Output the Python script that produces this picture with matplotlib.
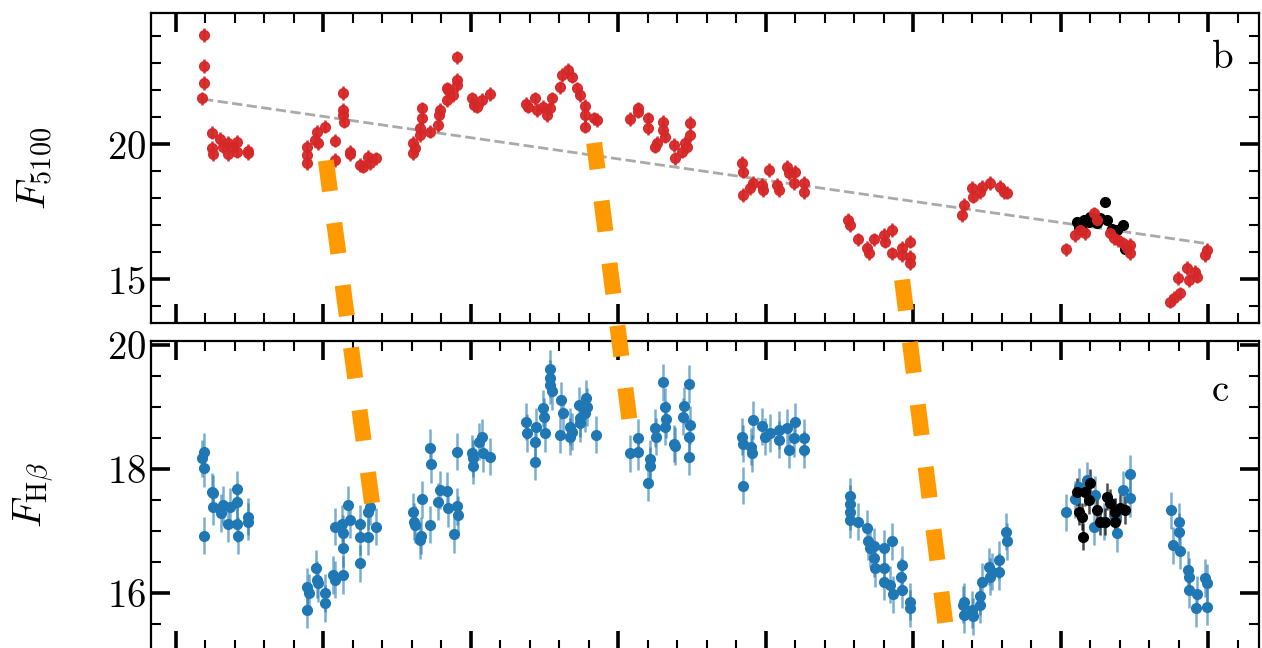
import matplotlib
matplotlib.use("Agg")
import matplotlib.pyplot as plt
from matplotlib.ticker import MultipleLocator, FuncFormatter
from matplotlib.lines import Line2D
import numpy as np

plt.rcParams['mathtext.fontset'] = 'cm'
plt.rcParams['font.family'] = 'serif'

# ---- continuum light curve (F5100), days since start
t_5100 = [97, 95, 97, 87, 123, 123, 127, 150, 159, 176, 178, 195, 207, 209, 243, 243,
          444, 444, 444, 472, 478, 483, 506, 540, 540, 566, 566, 568, 571, 589, 589, 625, 636, 653, 659, 679,
          805, 805, 811, 828, 828, 834, 836, 862, 890, 893, 894, 919, 919, 924, 941, 953, 953, 953,
          1003, 1009, 1022, 1037, 1065,
          1188, 1195, 1218, 1224, 1246, 1258, 1269, 1275, 1303, 1309, 1331, 1342, 1359, 1371, 1388, 1388,
          1388, 1416, 1427,
          1540, 1565, 1568, 1602, 1602, 1653, 1653, 1659, 1625, 1631, 1689, 1693, 1715, 1727, 1744, 1744, 1732,
          1919, 1922, 1922, 1947, 1956, 1987, 1992, 2012, 2037, 2046, 2071, 2077, 2099, 2096, 2128, 2128,
          2280, 2286, 2314, 2343, 2348, 2365, 2399, 2405, 2427, 2427, 2461, 2461, 2489, 2489, 2487,
          2665, 2670, 2698, 2702, 2727, 2732, 2760, 2794, 2806, 2817,
          3018, 3049, 3066, 3083, 3111, 3122, 3167, 3179, 3195, 3212, 3224, 3235, 3235,
          3371, 3382, 3396, 3405, 3427, 3433, 3456, 3461, 3489, 3495]
f_5100 = [24.05, 22.90, 22.26, 21.70, 20.43, 19.86, 19.64, 20.19, 19.91, 20.04, 19.64, 19.91, 20.10, 19.73,
          19.76, 19.67,
          19.91, 19.60, 19.30, 20.16, 20.47, 20.04, 20.65, 20.13, 19.42, 21.89, 21.27, 21.09, 20.84, 19.73,
          19.64, 19.23, 19.17, 19.54, 19.30, 19.48,
          20.04, 19.67, 19.85, 20.34, 20.59, 20.96, 21.33, 20.47, 20.71, 21.09, 21.27, 21.64, 22.07, 22.01,
          21.83, 22.38, 22.20, 23.22, 21.70, 21.46, 21.39, 21.64, 21.86,
          21.49, 21.39, 21.70, 21.27, 21.39, 21.09, 21.33, 21.70, 22.11, 22.57, 22.75, 22.50, 22.07, 21.83,
          21.42, 21.09, 20.65, 20.96, 20.90,
          20.93, 21.33, 21.21, 20.96, 20.59, 20.84, 20.53, 20.28, 19.91, 20.04, 19.97, 19.48, 19.73, 20.04,
          20.34, 20.80, 19.91,
          19.30, 18.99, 18.12, 18.37, 18.56, 18.49, 18.31, 19.05, 18.49, 18.31, 19.17, 18.93, 18.99, 18.56,
          18.56, 18.24,
          17.20, 17.01, 16.48, 16.15, 15.96, 16.48, 16.64, 16.39, 16.83, 15.96, 16.15, 15.90, 16.39, 15.84,
          15.59,
          17.38, 17.75, 18.37, 18.06, 18.24, 18.43, 18.56, 18.43, 18.24, 18.21,
          16.11, 16.64, 16.83, 16.70, 17.44, 17.20, 16.70, 16.52, 16.46, 16.33, 16.15, 15.96, 16.27,
          14.17, 14.30, 15.04, 14.48, 15.41, 14.97, 15.28, 15.10, 15.90, 16.09]
err_5100 = 0.25

# new campaign (black) continuum
t_5100_new = [3055, 3060, 3071, 3077, 3094, 3100, 3122, 3134, 3151, 3156, 3173, 3190, 3212, 3218]
f_5100_new = [17.13, 16.95, 16.83, 17.20, 17.13, 17.32, 17.10, 17.26, 17.87, 17.20, 16.85, 16.83, 17.01,
              16.11]

# long-term linear trend
t_trend = [92, 3495]
f_trend = [21.67, 16.32]

# ---- H-beta light curve
t_hb = [88, 96, 96, 96, 122, 125, 127, 154, 161, 178, 182, 207, 209, 209, 212, 243, 246,
        444, 446, 450, 476, 478, 483, 506, 506, 534, 538, 538, 563, 566, 568, 566, 585, 589, 625, 625, 625,
        653, 653, 659, 679,
        805, 808, 811, 828, 831, 834, 860, 862, 864, 890, 894, 919, 921, 944, 953, 955, 953, 1003, 1007,
        1007, 1026, 1037, 1041, 1065,
        1188, 1190, 1218, 1222, 1218, 1246, 1249, 1252, 1269, 1269, 1269, 1275, 1303, 1306, 1311, 1337,
        1337, 1342, 1365, 1371, 1371, 1388, 1391, 1393, 1424,
        1540, 1565, 1568, 1602, 1606, 1608, 1625, 1628, 1653, 1659, 1662, 1659, 1689, 1693, 1719, 1723,
        1741, 1744, 1741, 1741,
        1922, 1919, 1922, 1949, 1953, 1956, 1987, 1998, 2015, 2043, 2046, 2071, 2077, 2099, 2096, 2128, 2128,
        2286, 2284, 2286, 2286, 2314, 2343, 2345, 2354, 2365, 2365, 2371, 2399, 2399, 2399, 2427, 2421,
        2431, 2461, 2458, 2461, 2489, 2487,
        2668, 2670, 2672, 2698, 2702, 2727, 2727, 2732, 2758, 2760, 2766, 2792, 2792, 2815, 2817,
        3018, 3049, 3060, 3089, 3117, 3111, 3145, 3190, 3212, 3235, 3235, 3185,
        3373, 3399, 3402, 3379, 3405, 3430, 3433, 3436, 3461, 3459, 3489, 3497, 3495]
f_hb = [18.17, 18.28, 18.01, 16.92, 17.63, 17.39, 17.61, 17.29, 17.42, 17.12, 17.39, 17.67, 17.47, 17.12,
        16.92, 17.23, 17.15,
        15.73, 16.10, 16.00, 16.40, 16.21, 16.16, 16.00, 15.83, 16.29, 16.21, 17.07, 17.12, 16.96, 16.72,
        16.29, 17.42, 17.18, 17.12, 16.91, 16.48, 17.31, 16.91, 17.39, 17.07,
        17.31, 17.15, 17.10, 16.85, 16.92, 17.51, 17.10, 18.34, 18.08, 17.47, 17.66, 17.65, 17.37, 16.95,
        17.40, 17.26, 18.28, 18.25, 18.05, 18.17, 18.44, 18.51, 18.25, 18.20,
        18.76, 18.58, 18.44, 18.68, 18.12, 18.98, 18.84, 18.58, 19.62, 19.46, 19.35, 19.25, 18.55, 19.11,
        18.90, 18.68, 18.52, 18.60, 19.03, 18.82, 18.74, 18.90, 19.14, 19.00, 18.55,
        18.25, 18.50, 18.28, 17.78, 18.16, 18.05, 18.66, 18.52, 19.40, 19.00, 18.80, 18.68, 18.41, 18.37,
        18.84, 19.02, 19.37, 18.71, 18.52, 18.20,
        17.73, 18.52, 18.41, 18.36, 18.25, 18.79, 18.69, 18.52, 18.58, 18.63, 18.47, 18.66, 18.31, 18.76,
        18.50, 18.50, 18.31,
        17.56, 17.44, 17.31, 17.18, 17.15, 17.04, 16.83, 16.72, 16.75, 16.56, 16.40, 16.72, 16.40, 16.18,
        16.83, 16.13, 15.98, 16.45, 16.26, 16.05, 15.86, 15.75,
        15.81, 15.65, 15.86, 15.73, 15.62, 15.81, 15.95, 16.18, 16.42, 16.26, 16.34, 16.53, 16.34, 16.99,
        16.83,
        17.30, 17.51, 17.71, 17.82, 17.58, 17.07, 17.15, 16.96, 17.66, 17.92, 17.53, 17.23,
        17.33, 17.15, 16.99, 16.77, 16.68, 16.37, 16.26, 16.05, 15.98, 15.75, 16.24, 16.16, 15.78]
err_hb = 0.3

t_hb_new = [3055, 3060, 3071, 3083, 3100, 3094, 3122, 3134, 3151, 3156, 3168, 3185, 3185, 3202, 3218, 3075]
f_hb_new = [17.63, 17.31, 17.23, 17.63, 17.78, 17.50, 17.34, 17.15, 17.15, 17.55, 17.45, 17.15, 17.31,
            17.37, 17.34, 16.91]
err_hb_new = 0.22

# lag connectors: (t, F5100) on top panel -> (t, F_Hb) on bottom panel
lag_top = [(506, 19.60), (1418, 20.05), (2459, 15.23)]
lag_bottom = [(665, 17.45), (1537, 18.81), (2608, 15.52)]

RED = '#d62728'
BLUE = '#1f77b4'
ORANGE = '#ff9900'

fig = plt.figure(figsize=(12.62, 6.48), dpi=100)
ax1 = fig.add_axes([0.1197, 0.502, 0.878, 0.4775])
ax2 = fig.add_axes([0.1197, -0.003, 0.878, 0.4773])

ax1.errorbar(t_5100, f_5100, yerr=err_5100, fmt='o', color=RED, ms=7,
             elinewidth=1.8, capsize=0, ecolor=RED, alpha=0.95)
ax1.plot(t_5100_new, f_5100_new, 'o', color='black', ms=7)
ax1.plot(t_trend, f_trend, '--', color='#aaaaaa', lw=2.0, zorder=0)

ax2.errorbar(t_hb, f_hb, yerr=err_hb, fmt='o', color=BLUE, ms=7,
             elinewidth=1.8, capsize=0, ecolor=(0.12, 0.47, 0.71, 0.6))
ax2.errorbar(t_hb_new, f_hb_new, yerr=err_hb_new, fmt='o', color='black', ms=7,
             elinewidth=1.8, capsize=0, ecolor=(0, 0, 0, 0.7))

fmt = FuncFormatter(lambda v, p: r'$%g$' % v)
for ax in (ax1, ax2):
    ax.set_xlim(-84, 3672)
    ax.xaxis.set_major_locator(MultipleLocator(500))
    ax.xaxis.set_minor_locator(MultipleLocator(100))
    ax.yaxis.set_major_formatter(fmt)
    ax.tick_params(which='both', direction='in', top=True, right=True,
                   labelbottom=False, labelsize=28)
    ax.tick_params(which='major', length=14, width=2.6)
    ax.tick_params(which='minor', length=7, width=1.5)
    for s in ax.spines.values():
        s.set_linewidth(1.6)

ax1.set_ylim(13.39, 24.85)
ax1.yaxis.set_major_locator(MultipleLocator(5))
ax1.yaxis.set_minor_locator(MultipleLocator(1))
ax2.set_ylim(15.08, 20.07)
ax2.yaxis.set_major_locator(MultipleLocator(2))
ax2.yaxis.set_minor_locator(MultipleLocator(0.5))

ax1.set_ylabel(r'$F_{5100}$', fontsize=29)
ax2.set_ylabel(r'$F_{\rm H\beta}$', fontsize=29)
ax1.yaxis.set_label_coords(-0.087, 0.5)
ax2.yaxis.set_label_coords(-0.086, 0.5)

ax1.text(0.967, 0.856, r'$\mathrm{b}$', transform=ax1.transAxes, fontsize=28,
         ha='center', va='center')
ax2.text(0.965, 0.84, r'$\mathrm{c}$', transform=ax2.transAxes, fontsize=28,
         ha='center', va='center')

# orange lag lines across both panels, drawn bottom -> top
inv = fig.transFigure.inverted()
for pa, pb in zip(lag_top, lag_bottom):
    a = inv.transform(ax1.transData.transform(pa))
    b = inv.transform(ax2.transData.transform(pb))
    ln = Line2D([b[0], a[0]], [b[1], a[1]], transform=fig.transFigure, color=ORANGE,
                lw=11.5, dashes=(1.94, 2.0), dash_capstyle='butt', zorder=10)
    fig.add_artist(ln)

fig.savefig('out.png', dpi=100)
